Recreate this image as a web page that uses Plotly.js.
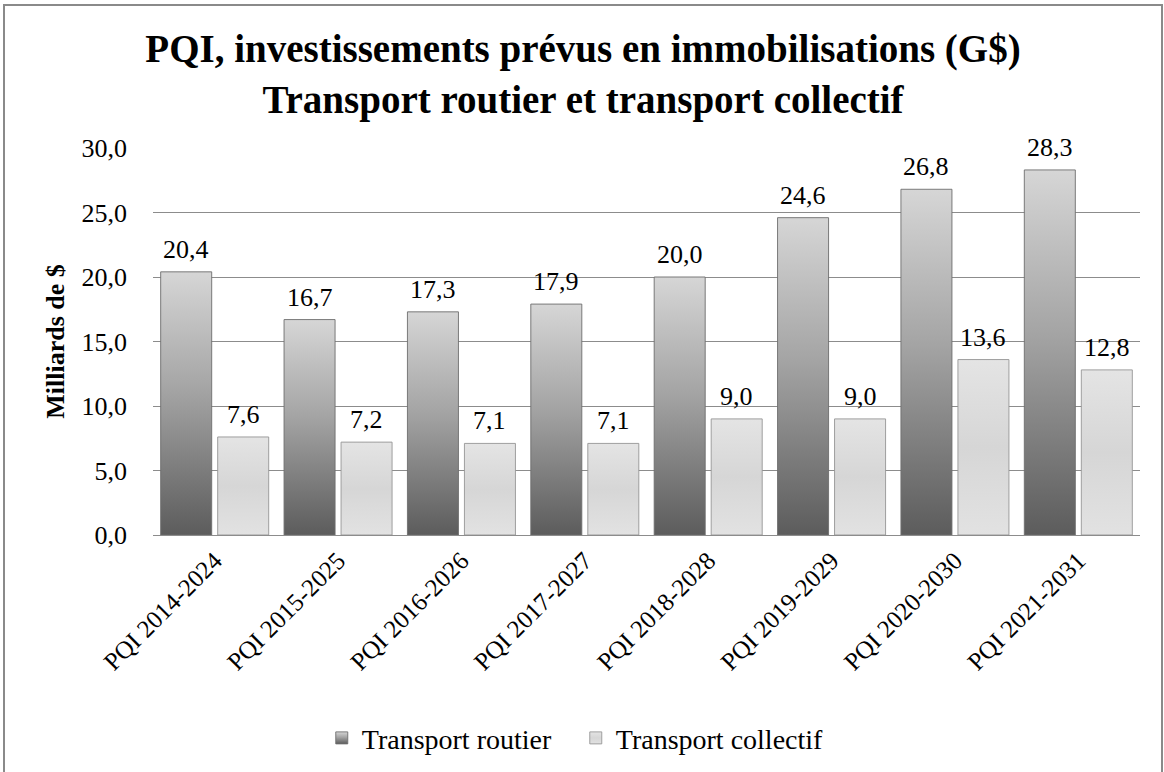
<!DOCTYPE html>
<html>
<head>
<meta charset="utf-8">
<script src="https://cdn.plot.ly/plotly-3.0.1.min.js"></script>
<style>
  html, body { margin: 0; padding: 0; background: #ffffff; overflow: hidden; }
  #frame { position: absolute; left: 3px; top: 4px; width: 1156px; height: 770px; border: 2px solid #8a8a8a; background: #fff; }
  #chart { width: 1156px; height: 770px; }
</style>
</head>
<body>
<div id="frame"><div id="chart"></div></div>
<script>
const categories = ["PQI 2014-2024", "PQI 2015-2025", "PQI 2016-2026", "PQI 2017-2027",
                    "PQI 2018-2028", "PQI 2019-2029", "PQI 2020-2030", "PQI 2021-2031"];
const routier = [20.4, 16.7, 17.3, 17.9, 20.0, 24.6, 26.8, 28.3];
const collectif = [7.6, 7.2, 7.1, 7.1, 9.0, 9.0, 13.6, 12.8];
const seriesNames = ["Transport routier", "Transport collectif"];
const yTicks = [0, 5, 10, 15, 20, 25, 30];

const FONT = "Liberation Serif, Times New Roman, serif";

const fmt = v => v.toFixed(1).replace(".", ",");

const traces = [
  { type: "bar", name: seriesNames[0], x: categories, y: routier,
    marker: { color: "#9a9a9a", line: { color: "rgba(110,110,110,0.9)", width: 1 } },
    hoverinfo: "none" },
  { type: "bar", name: seriesNames[1], x: categories, y: collectif,
    marker: { color: "#dcdcdc", line: { color: "rgba(150,150,150,0.9)", width: 1 } },
    hoverinfo: "none" }
];

const annotations = [];
[routier, collectif].forEach((arr, si) => {
  arr.forEach((v, i) => {
    annotations.push({
      x: categories[i], y: v, xref: "x", yref: "y",
      text: fmt(v), showarrow: false,
      xanchor: "center", yanchor: "bottom",
      xshift: si === 0 ? -28.5 : 28.5, yshift: 6,
      font: { family: FONT, size: 26, color: "#000" }
    });
  });
});

const layout = {
  width: 1156, height: 770,
  margin: { l: 148, r: 21, t: 142, b: 241 },
  paper_bgcolor: "#ffffff", plot_bgcolor: "#ffffff",
  font: { family: FONT, color: "#000" },
  title: {
    text: "<b>PQI, investissements prévus en immobilisations (G$)<br>Transport routier et transport collectif</b>",
    font: { family: FONT, size: 39, color: "#000" },
    x: 0.5, xanchor: "center", y: 0.927, yanchor: "middle"
  },
  barmode: "group", bargap: 0.076, bargroupgap: 0.105,
  xaxis: {
    type: "category", tickangle: -45, showgrid: false, showline: true,
    linecolor: "#8c8c8c", linewidth: 1, ticks: "",
    tickfont: { family: FONT, size: 25, color: "#000" }, automargin: false
  },
  yaxis: {
    range: [0, 30], tickvals: yTicks, ticktext: yTicks.map(fmt),
    showgrid: true, gridcolor: "#8c8c8c", gridwidth: 1, zeroline: false,
    showline: false, ticks: "", ticklabelstandoff: 25,
    tickfont: { family: FONT, size: 26, color: "#000" },
    title: { text: "<b>Milliards de $</b>", font: { family: FONT, size: 26, color: "#000" }, standoff: 9 },
    automargin: false
  },
  legend: {
    orientation: "h", x: 0.171, xanchor: "left", y: -0.525, yanchor: "middle",
    font: { family: FONT, size: 28, color: "#000" }, itemwidth: 30, traceorder: "normal",
    entrywidth: 209, entrywidthmode: "pixels"
  },
  annotations: annotations,
  showlegend: true
};

Plotly.newPlot("chart", traces, layout, { displayModeBar: false, staticPlot: true }).then(gd => {
  const svg = gd.querySelector(".main-svg");
  let defs = svg.querySelector("defs");
  const NS = "http://www.w3.org/2000/svg";
  function addGrad(id, stops) {
    const g = document.createElementNS(NS, "linearGradient");
    g.setAttribute("id", id);
    g.setAttribute("x1", "0"); g.setAttribute("y1", "0");
    g.setAttribute("x2", "0"); g.setAttribute("y2", "1");
    stops.forEach(([o, c]) => {
      const s = document.createElementNS(NS, "stop");
      s.setAttribute("offset", o); s.setAttribute("stop-color", c);
      g.appendChild(s);
    });
    defs.appendChild(g);
  }
  addGrad("gradDark", [["0", "#d6d6d6"], ["0.45", "#a4a4a4"], ["1", "#5c5c5c"]]);
  addGrad("gradLight", [["0", "#e4e4e4"], ["0.5", "#d6d6d6"], ["1", "#e2e2e2"]]);
  const ids = ["gradDark", "gradLight"];
  gd.querySelectorAll(".barlayer .trace").forEach((t, i) => {
    t.querySelectorAll("path").forEach(p => { p.style.fill = "url(#" + ids[i] + ")"; });
  });
  gd.querySelectorAll(".legend .traces").forEach((t, i) => {
    t.querySelectorAll(".legendpoints path").forEach(p => { p.style.fill = "url(#" + ids[i] + ")"; });
  });
});
</script>
</body>
</html>
